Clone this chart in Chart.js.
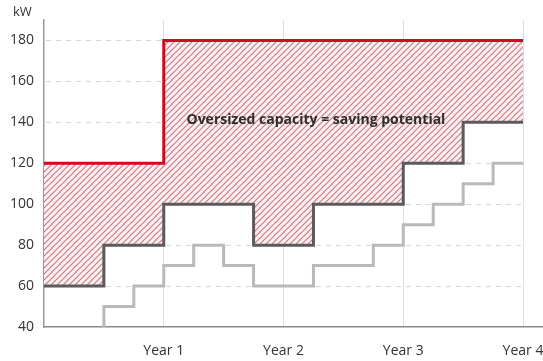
<!DOCTYPE html>
<html>
<head>
<meta charset="utf-8">
<title>Capacity vs load</title>
<script src="https://cdn.jsdelivr.net/npm/chart.js@4/dist/chart.umd.min.js"></script>
<style>
  html, body { margin: 0; padding: 0; background: #fff; }
  #wrap { width: 543px; height: 361px; position: relative; }
</style>
</head>
<body>
<div id="wrap"><canvas id="capacityChart"></canvas></div>
<script>
// installed capacity (kW), each point starts a new step
const capYears = [0, 1, 4];
const capacity = [120, 180, 180];

// peak demand
const peakYears = [0, 0.5, 1, 1.75, 2.25, 3, 3.5, 4];
const peakLoad = [60, 80, 100, 80, 100, 120, 140, 140];

// running load
const loadYears = [0.5, 0.5, 0.75, 1, 1.25, 1.5, 1.75, 2.25, 2.75, 3, 3.25, 3.5, 3.75, 4];
const runLoad = [40, 50, 60, 70, 80, 70, 60, 70, 80, 90, 100, 110, 120, 120];

const yearLabels = ['Year 1', 'Year 2', 'Year 3', 'Year 4'];
const yearTicks = [1, 2, 3, 4];
const kwTicks = [40, 60, 80, 100, 120, 140, 160, 180];

const FONT = "'Open Sans', 'Noto Sans', sans-serif";

function toPoints(xs, ys) {
    return xs.map((x, i) => ({ x: x, y: ys[i] }));
}

// red diagonal hatching for the oversized area
function makeHatch() {
    const s = 6;
    const c = document.createElement('canvas');
    c.width = s;
    c.height = s;
    const g = c.getContext('2d');
    g.fillStyle = '#fcf1f2';
    g.fillRect(0, 0, s, s);
    g.strokeStyle = 'rgba(190, 95, 108, 0.85)';
    g.lineWidth = 1.1;
    g.beginPath();
    g.moveTo(-1, s + 1);
    g.lineTo(s + 1, -1);
    g.moveTo(-1, 1);
    g.lineTo(1, -1);
    g.moveTo(s - 1, s + 1);
    g.lineTo(s + 1, s - 1);
    g.stroke();
    return g.createPattern(c, 'repeat');
}

// dashed horizontal guides, only up to the last year
const guidesPlugin = {
    id: 'guides',
    beforeDraw(chart) {
        const { ctx, scales: { x, y } } = chart;
        ctx.save();
        ctx.strokeStyle = '#d6d6d6';
        ctx.lineWidth = 1;
        ctx.setLineDash([5, 5]);
        kwTicks.forEach(v => {
            if (v === 40) return;
            const py = Math.round(y.getPixelForValue(v)) + 0.5;
            ctx.beginPath();
            ctx.moveTo(x.getPixelForValue(0) + 2, py);
            ctx.lineTo(x.getPixelForValue(4), py);
            ctx.stroke();
        });
        ctx.restore();
    }
};

const labelsPlugin = {
    id: 'labels',
    afterDraw(chart) {
        const { ctx, scales: { x, y } } = chart;
        ctx.save();
        ctx.fillStyle = '#333';
        ctx.font = '13px ' + FONT;
        ctx.textBaseline = 'middle';
        ctx.textAlign = 'left';
        ctx.fillText('kW', 13, 12);

        ctx.font = 'bold 14px ' + FONT;
        ctx.fillStyle = '#2e2e2e';
        ctx.fillText('Oversized capacity = saving potential', x.getPixelForValue(1.19), y.getPixelForValue(141));
        ctx.restore();
    }
};

const ctx = document.getElementById('capacityChart').getContext('2d');

new Chart(ctx, {
    type: 'line',
    data: {
        datasets: [
            {
                label: 'Capacity',
                data: toPoints(capYears, capacity),
                borderColor: '#d7061f',
                borderWidth: 3,
                backgroundColor: makeHatch(),
                fill: { target: 1 },
                stepped: true
            },
            {
                label: 'Peak load',
                data: toPoints(peakYears, peakLoad),
                borderColor: '#5b5b5b',
                borderWidth: 3,
                fill: false,
                stepped: true
            },
            {
                label: 'Load',
                data: toPoints(loadYears, runLoad),
                borderColor: '#b9b9b9',
                borderWidth: 3,
                fill: false,
                stepped: true
            }
        ]
    },
    options: {
        responsive: true,
        maintainAspectRatio: false,
        animation: false,
        layout: { padding: { top: 20, right: 0, left: 0, bottom: 0 } },
        elements: {
            point: { radius: 0, hoverRadius: 0 },
            line: { borderJoinStyle: 'miter', borderCapStyle: 'butt', tension: 0 }
        },
        scales: {
            x: {
                type: 'linear',
                min: 0,
                max: 4 + 20 / 120,
                afterBuildTicks: scale => {
                    scale.ticks = yearTicks.map(v => ({ value: v }));
                },
                afterFit: scale => {
                    scale.height = 34;
                    // let the last year label run to the canvas edge
                    scale.paddingLeft = 0;
                    scale.paddingRight = 0;
                },
                ticks: {
                    autoSkip: false,
                    maxRotation: 0,
                    padding: 16,
                    color: '#333',
                    font: { family: FONT, size: 14 },
                    callback: value => yearLabels[value - 1]
                },
                grid: { color: '#dedede', lineWidth: 1, drawTicks: false },
                border: { color: '#8a8a8a', width: 1.5 }
            },
            y: {
                min: 40,
                max: 190,
                afterBuildTicks: scale => {
                    scale.ticks = kwTicks.map(v => ({ value: v }));
                },
                afterFit: scale => { scale.width = 44; },
                ticks: {
                    padding: 10,
                    color: '#333',
                    font: { family: FONT, size: 14 }
                },
                grid: { display: false, drawTicks: false },
                border: { color: '#9a9a9a', width: 1.5 }
            }
        },
        plugins: {
            legend: { display: false },
            tooltip: { enabled: false },
            filler: { drawTime: 'beforeDatasetsDraw', propagate: false }
        }
    },
    plugins: [guidesPlugin, labelsPlugin]
});
</script>
</body>
</html>
